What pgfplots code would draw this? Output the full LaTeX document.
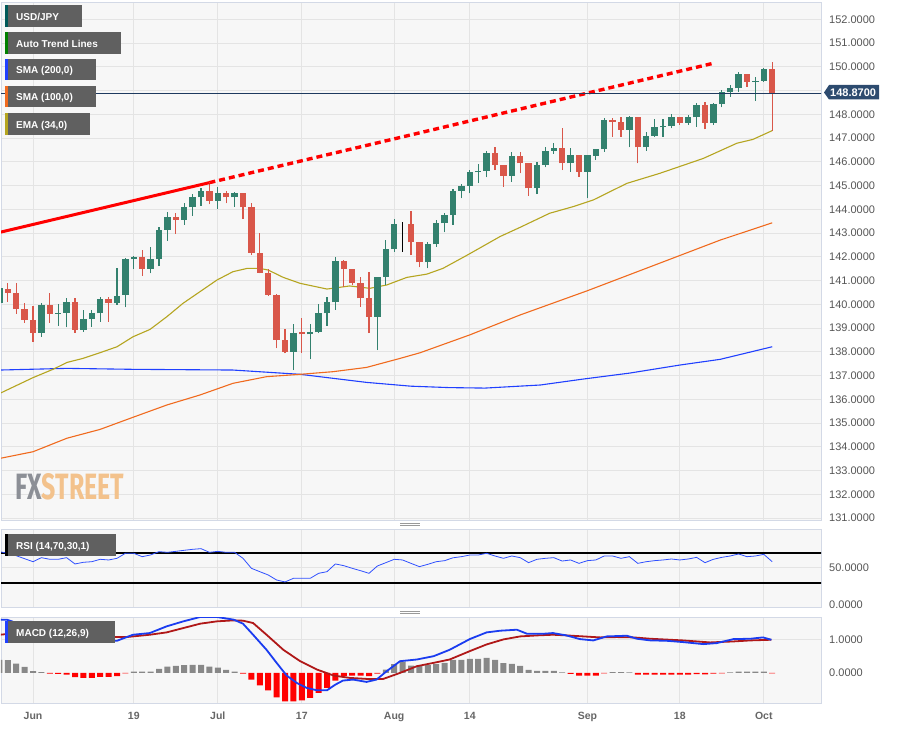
\documentclass[border=0pt]{standalone}
\usepackage{fontspec}
\setmainfont{Liberation Sans}
\newfontfamily\fxfont{Fira Sans}
\usepackage{pgfplots}
\usepackage{pgfplotstable}
\pgfplotsset{compat=1.18}
\usepackage{graphicx}

\definecolor{bg}{HTML}{F7F7F7}
\definecolor{gridc}{HTML}{E4E4E4}
\definecolor{framec}{HTML}{D3D9E6}
\definecolor{upc}{HTML}{33816E}
\definecolor{dnc}{HTML}{D9574A}
\definecolor{emac}{HTML}{B5A520}
\definecolor{smaA}{HTML}{F06A1E}
\definecolor{smaB}{HTML}{2040FF}
\definecolor{navy}{HTML}{1E3A5F}
\definecolor{boxc}{HTML}{2D4B6F}
\definecolor{labbg}{HTML}{606060}
\definecolor{tickc}{HTML}{555555}
\definecolor{datec}{HTML}{666666}
\definecolor{histg}{HTML}{888888}
\definecolor{macdb}{HTML}{1A3CF0}
\definecolor{macdr}{HTML}{B01818}
\definecolor{rsic}{HTML}{3050FF}
\definecolor{fxg}{HTML}{8C8F96}
\definecolor{fxo}{HTML}{F3C28C}

% candles: i open high low close
\pgfplotstableread{
i o h l c
-4 140.07 140.80 139.48 140.67
1 138.80 140.07 138.64 139.97
3 139.59 140.00 139.10 139.65
4 139.65 140.25 139.03 140.10
6 138.92 139.76 138.85 139.39
7 139.39 139.76 139.06 139.62
8 139.62 140.32 139.27 140.21
10 140.04 141.51 139.97 140.35
11 140.38 141.93 139.87 141.89
12 141.89 142.03 141.47 141.98
14 141.50 142.40 141.30 141.89
15 141.89 143.24 141.61 143.13
16 143.13 143.90 142.68 143.69
18 143.55 144.25 143.34 144.08
19 144.08 144.64 143.72 144.50
20 144.50 144.88 144.14 144.77
22 144.35 144.95 144.00 144.70
24 144.50 144.74 144.11 144.67
31 138.00 139.17 137.23 138.80
33 138.73 139.17 137.68 138.82
34 138.82 140.00 138.78 139.62
35 139.62 140.32 139.10 140.08
36 140.08 141.98 139.76 141.82
41 139.48 141.16 138.07 141.16
42 141.16 142.71 140.81 142.31
43 142.31 143.58 142.21 143.36
47 141.76 142.63 141.51 142.52
48 142.52 143.55 142.42 143.41
49 143.41 143.83 143.03 143.76
50 143.76 144.84 143.34 144.78
51 144.78 145.06 144.46 144.99
52 144.99 145.65 144.67 145.58
53 145.55 145.90 145.12 145.62
54 145.62 146.47 145.34 146.38
57 145.41 146.42 145.16 146.24
60 144.88 145.98 144.64 145.86
61 145.86 146.63 145.76 146.47
62 146.47 146.78 146.33 146.56
64 145.93 146.56 145.58 146.28
66 145.58 146.28 144.46 146.28
67 146.26 146.52 146.07 146.52
68 146.52 147.83 146.42 147.76
71 147.34 147.93 146.60 147.87
73 146.60 147.27 146.47 147.10
74 147.10 147.79 147.06 147.48
75 147.45 147.79 147.06 147.51
76 147.50 147.99 147.40 147.87
78 147.64 147.97 147.55 147.87
79 147.87 148.46 147.48 148.39
81 147.62 148.46 147.55 148.43
82 148.43 149.02 148.29 148.92
83 148.92 149.23 148.74 149.09
84 149.09 149.76 148.95 149.69
86 149.36 149.55 148.57 149.42
87 149.41 149.93 149.37 149.90
}\up

\pgfplotstableread{
i o h l c
-3 140.64 140.91 140.11 140.49
-2 140.46 140.91 139.59 139.79
-1 139.79 140.04 139.22 139.34
0 139.34 139.93 138.43 138.80
2 139.97 140.46 139.22 139.59
5 140.10 140.28 138.80 138.92
9 140.21 140.32 139.27 140.07
13 141.98 142.29 141.19 141.50
17 143.69 143.83 142.96 143.55
21 144.77 145.12 144.21 144.35
23 144.70 144.78 144.25 144.50
25 144.67 144.70 143.58 144.08
26 144.08 144.25 142.07 142.17
27 142.17 143.01 141.30 141.33
28 141.33 141.47 140.35 140.39
29 140.39 140.43 138.14 138.50
30 138.50 138.94 137.93 138.00
32 138.82 139.41 137.96 138.73
37 141.82 141.85 140.74 141.48
38 141.48 141.50 140.81 140.91
39 140.91 141.16 139.90 140.25
40 140.25 141.34 138.78 139.48
45 143.36 143.93 142.07 142.61
46 142.61 142.63 141.55 141.76
55 146.38 146.60 145.65 145.86
56 145.86 145.88 144.95 145.41
58 146.24 146.42 145.51 145.93
59 145.93 145.95 144.57 144.88
63 146.56 147.41 145.65 145.93
65 146.28 146.30 145.37 145.58
69 147.76 147.83 147.06 147.69
70 147.69 147.90 147.06 147.34
72 147.87 147.89 145.93 146.60
77 147.87 147.89 147.55 147.64
80 148.39 148.53 147.36 147.64
85 149.69 149.71 149.16 149.37
88 149.90 150.19 147.31 148.87
}\dn

\pgfplotstableread{
i o h l c
44 143.31 143.48 142.21 143.36
}\doji

\pgfplotstableread{
i r
-4 71.4
-3 69.2
-2 66
-1 62
0 58
1 63.4
2 61.2
3 61.2
4 63.4
5 55
6 57.2
7 58
8 61.2
9 60.3
10 62.5
11 69.2
12 69.2
13 64.7
14 67
15 71.4
16 70.5
17 71.8
18 73.2
19 74.5
20 75.4
21 70.5
22 71.8
23 70.5
24 70.5
25 62.5
26 49.2
27 44.7
28 40.3
29 33.6
30 31
31 35.8
32 35.8
33 35.8
34 42.5
35 44.7
36 55
37 52.7
38 49.2
39 46
40 42.5
41 52.3
42 56.7
43 61.2
44 60.3
45 55.8
46 51.4
47 54.5
48 58
49 59.4
50 63.2
51 64.7
52 66.9
53 66.9
54 69.2
55 65.6
56 62.5
57 65.6
58 63.4
59 56.7
60 61.2
61 62.5
62 63.4
63 58.9
64 60.3
65 55.8
66 59.4
67 60.3
68 65.6
69 65.6
70 62.5
71 64.7
72 55.8
73 58
74 59.4
75 60.3
76 61.6
77 60.3
78 61.6
79 63.8
80 56.7
81 61.2
82 63.8
83 65.6
84 68.3
85 64.7
86 65.6
87 67.8
88 58
}\rsi

\pgfplotstableread{
i v
-4 0.39
-3 0.38
-2 0.28
-1 0.18
0 0.05
1 0.02
12 0.04
13 0.04
14 0.04
15 0.12
16 0.19
17 0.21
18 0.23
19 0.24
20 0.24
21 0.19
22 0.16
23 0.09
24 0.04
42 0.10
43 0.26
44 0.33
45 0.22
46 0.20
47 0.23
48 0.26
49 0.30
50 0.39
51 0.39
52 0.42
53 0.42
54 0.45
55 0.39
56 0.29
57 0.27
58 0.21
59 0.09
60 0.06
61 0.06
62 0.06
63 0.015
69 0.02
70 0.02
71 0.015
83 0.015
84 0.04
85 0.04
86 0.04
87 0.04
}\histup

\pgfplotstableread{
i v
2 -0.02
3 -0.03
4 -0.05
5 -0.13
6 -0.15
7 -0.15
8 -0.12
9 -0.12
10 -0.10
11 -0.015
25 -0.02
26 -0.20
27 -0.37
28 -0.52
29 -0.73
30 -0.85
31 -0.85
32 -0.82
33 -0.75
34 -0.60
35 -0.45
36 -0.23
37 -0.10
38 -0.08
39 -0.08
40 -0.10
41 -0.02
64 -0.03
65 -0.08
66 -0.08
67 -0.08
68 -0.015
72 -0.05
73 -0.05
74 -0.05
75 -0.05
76 -0.05
77 -0.05
78 -0.05
79 -0.04
80 -0.045
81 -0.02
82 -0.015
88 -0.015
}\histdn

\pgfplotsset{
  panel/.style={
    scale only axis, anchor=south west, width=820pt,
    xmin=-3.81, xmax=93.81,
    axis background/.style={fill=bg},
    axis line style={framec, line width=0.8pt},
    grid=major, grid style={gridc, line width=0.9pt},
    major tick length=0pt,
    xtick={0,12,22,32,43,52,66,77,87}, xticklabels={},
    yticklabel pos=right,
    /pgf/number format/assume math mode=true,
    tick label style={font=\fontsize{11}{13}\selectfont, text=tickc},
    yticklabel style={/pgf/number format/fixed, /pgf/number format/fixed zerofill,
      /pgf/number format/precision=4, /pgf/number format/1000 sep={},
      anchor=west, inner sep=0pt, xshift=8pt},
  },
  wick/.style={forget plot, draw=none, mark=none,
    error bars/.cd, y dir=plus, y explicit, error mark=none,
    error bar style={draw=#1, solid, line width=1.1pt}},
  body/.style={forget plot, draw=none, mark=none,
    error bars/.cd, y dir=plus, y explicit, error mark=none,
    error bar style={draw=#1, solid, line width=6.3pt}},
}

\newcommand\lab[6]{% right x, top y, bottom y, mid y, stripe colour, text
  \fill[labbg] (5pt,#2pt) rectangle (#1pt,#3pt);
  \fill[#5] (5pt,#2pt) rectangle (8pt,#3pt);
  \node[anchor=base west, inner sep=0pt, text=white,
    font=\bfseries\fontsize{10}{12}\selectfont] at (16pt,#4pt) {#6};}

\begin{document}
\begin{tikzpicture}
\useasboundingbox (0pt,0pt) rectangle (898pt,729pt);

% ---- price panel
\begin{axis}[panel, at={(1pt,209pt)}, height=518pt,
  ymin=130.916, ymax=152.726,
  ytick={131,132,133,134,135,136,137,138,139,140,141,142,143,144,145,146,147,148,150,151,152},
  extra y ticks={149}, extra y tick labels={}, extra y tick style={grid=major}]

\addplot[smaB, line width=1.1pt] coordinates {(-3.93,137.23) (4.05,137.30) (11.9,137.26) (23.8,137.23)
  (31.8,137.05) (39.7,136.71) (45,136.55) (49.6,136.49) (53.8,136.47) (60.4,136.6) (65.5,136.85)
  (71,137.1) (77,137.44) (81.8,137.68) (88,138.21)};
\addplot[smaA, line width=1.1pt] coordinates {(-3.93,133.51) (0,133.79) (4.05,134.36) (7.98,134.73)
  (11.9,135.24) (15.95,135.76) (19.88,136.18) (23.8,136.67) (27.8,136.95) (31.8,137.05) (35.7,137.16)
  (39.7,137.34) (43.7,137.72) (46.1,137.96) (52,138.71) (58,139.55) (66,140.57) (75.8,141.89)
  (81.8,142.70) (88,143.43)};
\addplot[emac, line width=1.1pt] coordinates {(-3.93,136.25) (0,136.91) (2.38,137.26) (4.05,137.55)
  (5.95,137.72) (7.98,137.96) (10,138.21) (11.9,138.63) (13.93,138.94) (15.95,139.48) (17.86,140.04)
  (19.88,140.53) (21.9,141.02) (23.8,141.37) (25.5,141.51) (27,141.51) (28,141.44) (29.8,141.13)
  (31.8,140.88) (35,140.64) (37.7,140.77) (40.1,140.67) (42.1,140.81) (44.5,141.13) (46.9,141.27)
  (48.8,141.51) (51.7,142.07) (55.6,142.85) (58,143.24) (61.5,143.83) (64.3,144.11) (66.7,144.39)
  (70.7,145.09) (74.6,145.51) (79.8,146.14) (83.8,146.78) (85.7,146.94) (88,147.31)};

% candles
\addplot[wick=upc] table[x=i, y=l, y error expr=\thisrow{h}-\thisrow{l}] {\up};
\addplot[body=upc] table[x=i, y=o, y error expr=\thisrow{c}-\thisrow{o}] {\up};
\addplot[wick=dnc] table[x=i, y=l, y error expr=\thisrow{h}-\thisrow{l}] {\dn};
\addplot[body=dnc] table[x=i, y=c, y error expr=\thisrow{o}-\thisrow{c}] {\dn};
\addplot[wick=black] table[x=i, y=l, y error expr=\thisrow{h}-\thisrow{l}] {\doji};
\addplot[forget plot, draw=none, mark=none, error bars/.cd, y dir=plus, y explicit, error mark=none,
  error bar style={draw=black, solid, line width=1.2pt}] table[x=i, y=o, y error expr=\thisrow{c}-\thisrow{o}] {\doji};

% trend line
\addplot[red, line width=3pt] coordinates {(-3.93,143.03) (21,145.12)};
\addplot[red, line width=3.4pt, dash pattern=on 6pt off 4pt] coordinates {(21,145.12) (80.8,150.13)};

% last price
\addplot[navy, line width=1.1pt] coordinates {(-5,148.87) (95,148.87)};
\end{axis}

% ---- RSI panel
\begin{axis}[panel, at={(1pt,122pt)}, height=78pt,
  ymin=-2.4, ymax=101.6, ytick={50},
  extra y ticks={0}, extra y tick style={grid=none}]
\addplot[black, line width=2pt] coordinates {(-5,70) (95,70)};
\addplot[black, line width=2pt] coordinates {(-5,30) (95,30)};
\addplot[rsic, line width=0.8pt] table[x=i, y=r] {\rsi};
\end{axis}

% ---- MACD panel
\begin{axis}[panel, at={(1pt,26pt)}, height=86pt,
  ymin=-0.9, ymax=1.67, ytick={1},
  extra y ticks={0}, extra y tick style={grid=none},
  xticklabels={Jun,19,Jul,17,Aug,14,Sep,18,Oct},
  xticklabel style={font=\bfseries\fontsize{10.5}{12}\selectfont, text=datec,
    anchor=base, inner sep=0pt, yshift=-16.5pt}]
\addplot[ybar, bar width=6pt, bar shift=0pt, fill=histg, draw=none] table[x=i, y=v] {\histup};
\addplot[ybar, bar width=6pt, bar shift=0pt, fill=red, draw=none] table[x=i, y=v] {\histdn};
\addplot[macdr, line width=1.8pt] coordinates {(-3.93,1.14) (-1.94,1.19) (0.04,1.21) (2.02,1.17)
  (4,1.14) (8,1.07) (11.1,1.07) (13.9,1.14) (15.9,1.21) (17.9,1.34) (19.9,1.47) (21.9,1.54)
  (23.9,1.57) (25,1.56) (26.2,1.49) (27.8,1.14) (29.8,0.69) (31.8,0.35) (33.8,0.10) (35.8,-0.08)
  (37.7,-0.15) (39.7,-0.18) (41.7,-0.18) (43.7,0.0) (45.7,0.20) (47.7,0.30) (49.6,0.40) (52,0.65)
  (54,0.85) (56,1.0) (58,1.09) (60,1.12) (61.9,1.14) (63.5,1.12) (65.5,1.09) (67.5,1.06) (69.5,1.07)
  (71.5,1.06) (73.5,1.02) (77.4,0.97) (80.6,0.91) (83.4,0.94) (85.4,0.97) (87.9,0.99)};
\addplot[macdb, line width=1.8pt] coordinates {(-3.93,1.59) (-3.13,1.59) (-1.94,1.49) (0.04,1.29)
  (2.02,1.14) (4,1.04) (6,0.97) (8,0.96) (10,0.96) (11.9,1.14) (13.9,1.19) (15.9,1.39) (17.9,1.54)
  (19.9,1.67) (21.9,1.67) (23.9,1.59) (25,1.47) (26.2,1.14) (27.8,0.69) (29,0.30) (30.2,-0.08)
  (31.4,-0.30) (32.6,-0.45) (33.8,-0.52) (35,-0.52) (36,-0.35) (36.9,-0.23) (38.1,-0.20) (39.7,-0.27)
  (40.9,-0.20) (42.1,0.05) (43.7,0.35) (45.7,0.40) (47.7,0.50) (49.6,0.69) (52,1.01) (54,1.21)
  (55.6,1.26) (57.6,1.29) (58.8,1.17) (60.8,1.17) (61.9,1.19) (63.5,1.12) (65.1,1.01) (66.7,0.97)
  (68.3,1.09) (70.7,1.11) (71.9,1.02) (73.5,0.97) (75.4,0.96) (77.4,0.92) (79.8,0.86) (81.4,0.89)
  (83.4,1.01) (85.4,1.02) (86.9,1.06) (87.9,0.99)};
\end{axis}

% panel separators
\draw[gray!80, line width=0.8pt] (400pt,206pt) -- (420pt,206pt) (400pt,203.5pt) -- (420pt,203.5pt);
\draw[gray!80, line width=0.8pt] (400pt,118pt) -- (420pt,118pt) (400pt,115.5pt) -- (420pt,115.5pt);

% last price box
\fill[boxc] (824pt,636.5pt) -- (829pt,644pt) -- (879pt,644pt) -- (879pt,629.5pt) -- (829pt,629.5pt) -- cycle;
\node[anchor=base west, inner sep=0pt, text=white, font=\bfseries\fontsize{11}{13}\selectfont]
  at (830pt,632.5pt) {148.8700};

% watermark
\node[anchor=south west, inner sep=0pt] at (15pt,229pt)
  {\resizebox{109pt}{26pt}{\fxfont\bfseries\textcolor{fxg}{FX}\textcolor{fxo}{STREET}}};

% indicator labels
\lab{82}{724}{702}{708.5}{teal!70!black}{USD/JPY}
\lab{121}{697}{675}{681.5}{green!50!black}{Auto Trend Lines}
\lab{96}{670}{649}{655}{smaB}{SMA (200,0)}
\lab{96}{643}{622}{628}{smaA}{SMA (100,0)}
\lab{90}{616}{594}{600.5}{emac}{EMA (34,0)}
\lab{116}{195}{173}{179.5}{black}{RSI (14,70,30,1)}
\lab{115}{108}{86}{92.5}{smaB}{MACD (12,26,9)}
\end{tikzpicture}
\end{document}
